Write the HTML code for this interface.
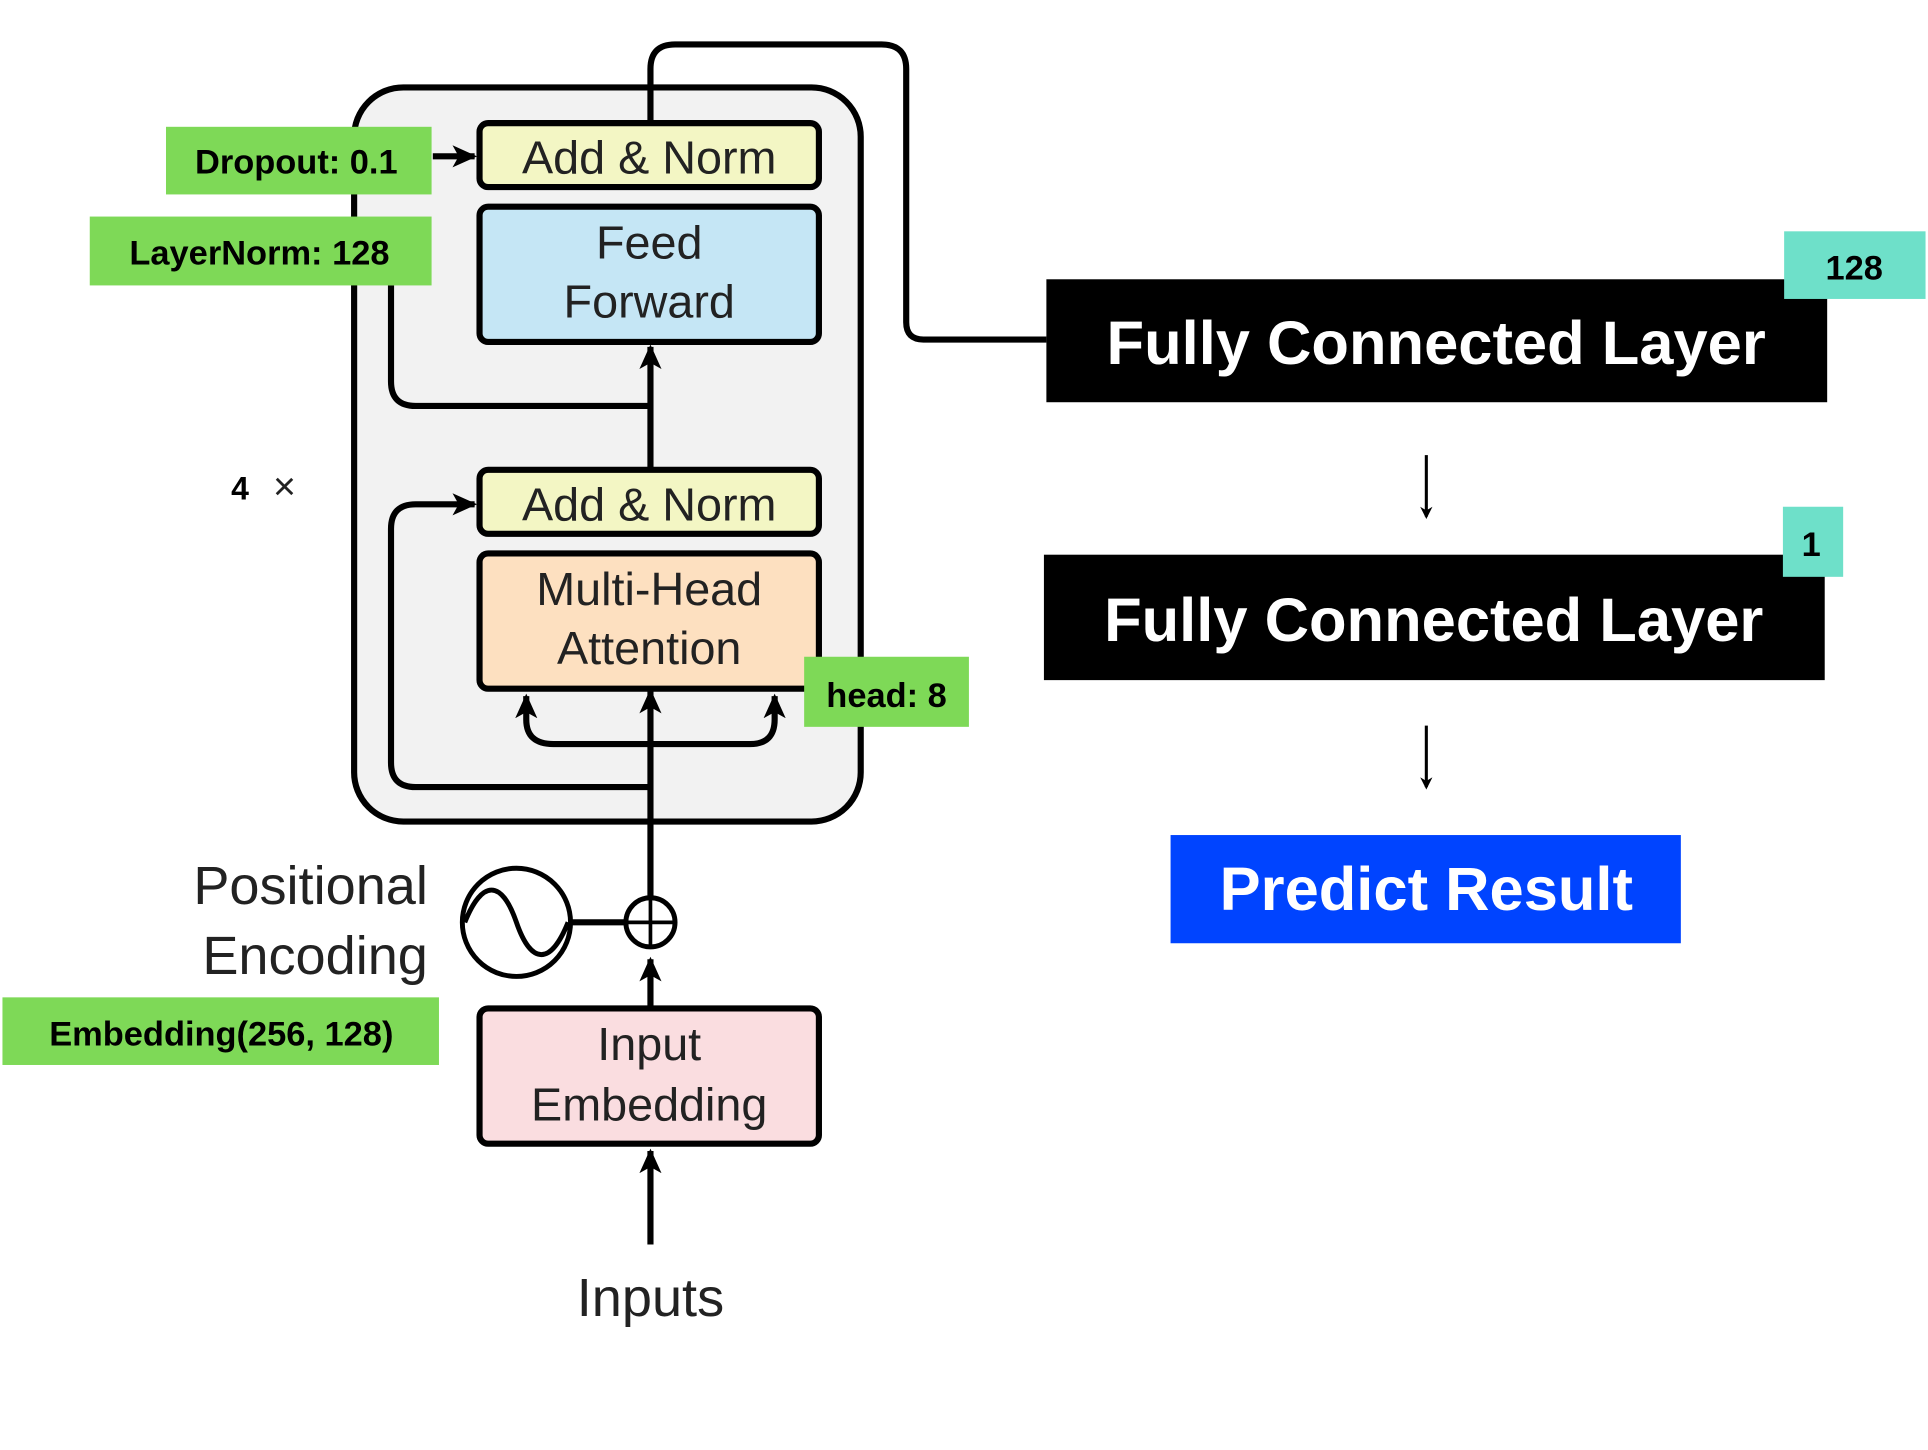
<!DOCTYPE html>
<html><head><meta charset="utf-8"><style>
html,body{margin:0;padding:0;background:#fff;}
svg{display:block;}
.t{font-family:"Liberation Sans",sans-serif;}
</style></head><body>
<svg width="1928" height="1450" viewBox="0 0 1568 1179" xmlns="http://www.w3.org/2000/svg">
<defs>
<marker id="ah" markerWidth="10" markerHeight="10" refX="8" refY="5" orient="auto" markerUnits="userSpaceOnUse">
<path d="M0,0 L10,5 L0,10 L3,5 z" fill="#000"/></marker>
<marker id="ahb" markerWidth="22" markerHeight="22" refX="18" refY="11" orient="auto" markerUnits="userSpaceOnUse">
<path d="M0,2 L20,11 L0,20 L5,11 z" fill="#000"/></marker>
</defs>
<rect x="288" y="71" width="412" height="597" rx="40" fill="#f2f2f2" stroke="#000" stroke-width="5"/>
<g fill="none" stroke="#000" stroke-width="5">
<path d="M529 1012 V936" marker-end="url(#ahb)"/>
<path d="M529 820 V780" marker-end="url(#ahb)"/>
<path d="M529 730 V562" marker-end="url(#ahb)"/>
<path d="M529 640 H338 Q318 640 318 620 V430 Q318 410 338 410 H386" marker-end="url(#ahb)"/>
<path d="M529 605 H450 Q428 605 428 585 V566" marker-end="url(#ahb)"/>
<path d="M529 605 H610 Q630 605 630 585 V566" marker-end="url(#ahb)"/>
<path d="M529 382 V282" marker-end="url(#ahb)"/>
<path d="M529 330 H338 Q318 330 318 310 V232"/>
<path d="M352 127 H386" marker-end="url(#ahb)"/>
<path d="M529 100 V56 Q529 36 549 36 H717 Q737 36 737 56 V262 Q737 276 751 276 H851"/>
<path d="M464 750 H509"/>
</g>
<circle cx="529" cy="750" r="20" fill="#fff" stroke="#000" stroke-width="4"/>
<path d="M509 750 H549 M529 730 V770" stroke="#000" stroke-width="3"/>
<circle cx="420" cy="750" r="44" fill="#fff" stroke="#000" stroke-width="4"/>
<path d="M378 750 C392 715 408 715 420 750 C432 785 448 785 462 750" fill="none" stroke="#000" stroke-width="4"/>
<g stroke="#000" stroke-width="5">
<rect x="390" y="100" width="276" height="52" rx="7" fill="#f3f6c4"/>
<rect x="390" y="168" width="276" height="110" rx="7" fill="#c5e6f5"/>
<rect x="390" y="382" width="276" height="52" rx="7" fill="#f3f6c4"/>
<rect x="390" y="450" width="276" height="110" rx="7" fill="#fde0c0"/>
<rect x="390" y="820" width="276" height="110" rx="7" fill="#fadde0"/>
</g>
<g class="t" font-size="38" fill="#222" text-anchor="middle">
<text x="528" y="141">Add &amp; Norm</text>
<text x="528" y="210">Feed</text><text x="528" y="258">Forward</text>
<text x="528" y="423">Add &amp; Norm</text>
<text x="528" y="492">Multi-Head</text><text x="528" y="540">Attention</text>
<text x="528" y="862">Input</text><text x="528" y="911">Embedding</text>
</g>
<g class="t" font-size="44" fill="#222">
<text x="348" y="735" text-anchor="end">Positional</text>
<text x="348" y="792" text-anchor="end">Encoding</text>
<text x="529" y="1070" text-anchor="middle">Inputs</text>
<text x="188" y="406" font-size="26" font-weight="bold" fill="#000">4</text>
<text x="222" y="406" font-size="32">×</text>
</g>
<g fill="#7ed957">
<rect x="135" y="103" width="216" height="55"/>
<rect x="73" y="176" width="278" height="56"/>
<rect x="654" y="534" width="134" height="57"/>
<rect x="2" y="811" width="355" height="55"/>
</g>
<g class="t" font-size="28" font-weight="bold" fill="#000" text-anchor="middle">
<text x="241" y="141">Dropout: 0.1</text>
<text x="211" y="215">LayerNorm: 128</text>
<text x="721" y="575">head: 8</text>
<text x="180" y="850">Embedding(256, 128)</text>
</g>
<rect x="851" y="227" width="635" height="100" fill="#000"/>
<rect x="849" y="451" width="635" height="102" fill="#000"/>
<rect x="1451" y="188" width="115" height="55" fill="#6ee0c9"/>
<rect x="1450" y="412" width="49" height="57" fill="#6ee0c9"/>
<rect x="952" y="679" width="415" height="88" fill="#0044ff"/>
<g class="t" font-weight="bold" text-anchor="middle">
<text x="1168" y="296" font-size="50" fill="#fff">Fully Connected Layer</text>
<text x="1166" y="521" font-size="50" fill="#fff">Fully Connected Layer</text>
<text x="1160" y="740" font-size="50" fill="#fff">Predict Result</text>
<text x="1508" y="227" font-size="28" fill="#000">128</text>
<text x="1473" y="452" font-size="28" fill="#000">1</text>
</g>
<path d="M1160 370 V420" stroke="#000" stroke-width="2.5" marker-end="url(#ah)"/>
<path d="M1160 590 V640" stroke="#000" stroke-width="2.5" marker-end="url(#ah)"/>
</svg>
</body></html>
